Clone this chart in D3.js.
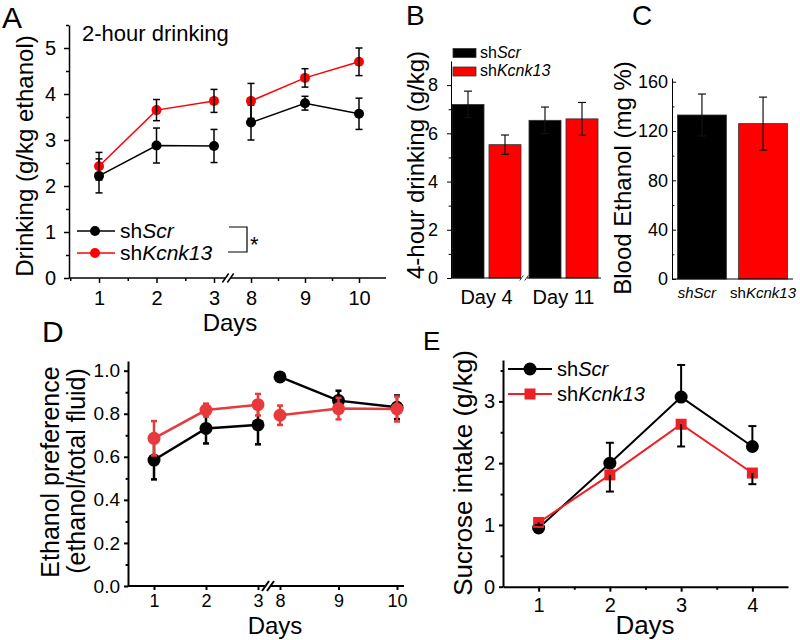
<!DOCTYPE html>
<html>
<head>
<meta charset="utf-8">
<script src="https://cdn.jsdelivr.net/npm/d3@7"></script>
<style>
  body { margin: 0; background: #fff; }
  text { font-family: Arial, "Liberation Sans", Helvetica, sans-serif; fill: #000; }
</style>
</head>
<body>
<svg id="fig" width="800" height="640"></svg>
<script>
// ---------- data ----------
let seriesNames = ['shScr', 'shKcnk13']   // "sh" upright, rest italic

// A: 2-hour drinking (g/kg ethanol)
let daysA = [1, 2, 3, 8, 9, 10]
let scrA = [2.22, 2.88, 2.87, 3.38, 3.80, 3.57]
let scrAErr = [0.37, 0.38, 0.36, 0.38, 0.15, 0.34]
let kcnkA = [2.43, 3.65, 3.85, 3.85, 4.35, 4.70]
let kcnkAErr = [0.30, 0.23, 0.25, 0.38, 0.20, 0.30]
let yTicksA = [0, 1, 2, 3, 4, 5]

// B: 4-hour drinking (g/kg)
let groupsB = ['Day 4', 'Day 11']
let scrB = [7.2, 6.54]
let scrBErr = [0.55, 0.55]
let kcnkB = [5.53, 6.6]
let kcnkBErr = [0.40, 0.68]
let yTicksB = [0, 2, 4, 6, 8]

// C: blood ethanol (mg %)
let groupsC = ['shScr', 'shKcnk13']
let italicFromC = [0, 2]
let bloodC = [133, 126]
let bloodCErr = [17, 21.5]
let yTicksC = [0, 40, 80, 120, 160]

// D: ethanol preference
let daysD = [1, 2, 3, 8, 9, 10]
let scrD = [0.585, 0.732, 0.748, 0.971, 0.861, 0.830]
let scrDErr = [0.09, 0.07, 0.09, 0.02, 0.046, 0.055]
let kcnkD = [0.686, 0.817, 0.842, 0.793, 0.824, 0.822]
let kcnkDErr = [0.08, 0.03, 0.05, 0.045, 0.05, 0.058]
let yTicksD = [0, 0.2, 0.4, 0.6, 0.8, 1.0]

// E: sucrose intake (g/kg)
let daysE = [1, 2, 3, 4]
let scrE = [0.95, 2.0, 3.07, 2.27]
let scrEErr = [0.04, 0.33, 0.52, 0.33]
let kcnkE = [1.04, 1.81, 2.63, 1.84]
let kcnkEErr = [0.04, 0.27, 0.36, 0.18]
let yTicksE = [0, 1, 2, 3]

// ---------- helpers ----------
let svg = d3.select('#fig')

function pts(days, vals, errs) {
    return days.map((d, i) => ({day: d, v: vals[i], e: errs[i]}))
}

function rich(sel, str, italicFrom) {
    sel.append('tspan').text(str.slice(0, italicFrom))
    sel.append('tspan').attr('font-style', 'italic').text(str.slice(italicFrom))
}

function label(g, x, y, str, size, anchor) {
    return g.append('text').attr('x', x).attr('y', y)
        .attr('font-size', size).attr('text-anchor', anchor || 'start').text(str)
}

function yLabel(g, x, y, str, size) {
    return g.append('text').attr('transform', `translate(${x},${y}) rotate(-90)`)
        .attr('font-size', size).attr('text-anchor', 'middle').text(str)
}

function yAxis(g, x, scale, ticks, minors, o) {
    let ax = g.append('g').attr('transform', `translate(${x},0)`)
        .call(d3.axisLeft(scale).tickValues(ticks).tickSize(o.tick).tickPadding(o.pad)
            .tickSizeOuter(0).tickFormat(o.fmt || (d => d)))
    ax.attr('font-size', o.size)
    ax.selectAll('path, line').attr('stroke-width', o.lw)
    if (minors) {
        let m = g.append('g').attr('transform', `translate(${x},0)`)
            .call(d3.axisLeft(scale).tickValues(minors).tickSize(o.tick * 0.6).tickFormat(''))
        m.select('.domain').remove()
        m.selectAll('line').attr('stroke-width', o.lw)
    }
}

// x axis with a "//" break between two linear pieces
function brokenAxis(g, y0, xStart, xEnd, bx, scales, ticks, minors, o) {
    g.append('line').attr('x1', xStart).attr('x2', xEnd).attr('y1', y0).attr('y2', y0)
        .attr('stroke', '#000').attr('stroke-width', o.lw)
    scales.forEach((s, i) => {
        let a = g.append('g').attr('transform', `translate(0,${y0})`)
            .call(d3.axisBottom(s).tickValues(ticks[i]).tickSize(o.tick).tickPadding(o.pad)
                .tickFormat(d => d))
        a.select('.domain').remove()
        a.attr('font-size', o.size)
        a.selectAll('line').attr('stroke-width', o.lw)
        if (minors) {
            let m = g.append('g').attr('transform', `translate(0,${y0})`)
                .call(d3.axisBottom(s).tickValues(minors[i]).tickSize(o.tick * 0.6).tickFormat(''))
            m.select('.domain').remove()
            m.selectAll('line').attr('stroke-width', o.lw)
        }
    })
    breakMark(g, bx, y0, o.brk, o.lw)
}

function breakMark(g, bx, y0, h, lw) {
    g.append('rect').attr('x', bx - 3).attr('y', y0 - 3).attr('width', 6).attr('height', 6).attr('fill', '#fff')
    ;[-2.5, 2.5].forEach(dx => {
        g.append('line')
            .attr('x1', bx + dx - h * 0.35).attr('y1', y0 + h / 2)
            .attr('x2', bx + dx + h * 0.35).attr('y2', y0 - h / 2)
            .attr('stroke', '#000').attr('stroke-width', lw)
    })
}

function errBars(g, data, x, y, o) {
    let eg = g.append('g').attr('stroke', o.color).attr('stroke-width', o.lw)
    data.forEach(p => {
        let top = o.dir === 'down' ? p.v : p.v + p.e
        let bot = o.dir === 'up' ? p.v : p.v - p.e
        let cx = x(p)
        eg.append('line').attr('x1', cx).attr('x2', cx).attr('y1', y(top)).attr('y2', y(bot))
        if (o.dir !== 'down')
            eg.append('line').attr('x1', cx - o.cap).attr('x2', cx + o.cap).attr('y1', y(top)).attr('y2', y(top))
        if (o.dir !== 'up')
            eg.append('line').attr('x1', cx - o.cap).attr('x2', cx + o.cap).attr('y1', y(bot)).attr('y2', y(bot))
    })
}

function drawSeries(g, data, x, y, o) {
    let line = d3.line().x(d => x(d.day)).y(d => y(d.v))
    let segs = o.split ? [data.filter(d => d.day <= 3), data.filter(d => d.day > 3)] : [data]
    segs.forEach(s => {
        g.append('path').attr('d', line(s)).attr('fill', 'none')
            .attr('stroke', o.color).attr('stroke-width', o.lw)
    })
    if (o.shape === 'square') {
        g.selectAll(null).data(data).enter().append('rect')
            .attr('x', d => x(d.day) - o.r).attr('y', d => y(d.v) - o.r)
            .attr('width', o.r * 2).attr('height', o.r * 2).attr('fill', o.color)
    } else {
        g.selectAll(null).data(data).enter().append('circle')
            .attr('cx', d => x(d.day)).attr('cy', d => y(d.v)).attr('r', o.r).attr('fill', o.color)
    }
    errBars(g, data, d => x(d.day), y, {color: o.errColor, lw: o.errLw, cap: o.cap, dir: o.dir})
}

// ---------- A ----------
let gA = svg.append('g')
let yA = d3.scaleLinear().domain([0, 5.5]).range([278, 25])
let xA1 = d3.scaleLinear().domain([1, 3]).range([99, 214])
let xA2 = d3.scaleLinear().domain([8, 10]).range([251, 359])
let xA = d => d <= 3 ? xA1(d) : xA2(d)

yAxis(gA, 69, yA, yTicksA, d3.range(0.5, 5.6, 1), {tick: 5, pad: 8, size: 20, lw: 1.5})
brokenAxis(gA, 278, 69, 386, 228, [xA1, xA2], [[1, 2, 3], [8, 9, 10]],
    [[0.5, 1.5, 2.5], [8.5, 9.5]], {tick: 5, pad: 8, size: 20, lw: 1.5, brk: 9})

drawSeries(gA, pts(daysA, scrA, scrAErr), xA, yA,
    {color: '#000', lw: 1.5, r: 5, errColor: '#000', errLw: 1.5, cap: 3.5, split: true})
drawSeries(gA, pts(daysA, kcnkA, kcnkAErr), xA, yA,
    {color: '#ff0000', lw: 1.5, r: 5, errColor: '#000', errLw: 1.5, cap: 3.5, split: true})

label(gA, 2, 28, 'A', 30)
label(gA, 82, 41, '2-hour drinking', 22)
label(gA, 230, 331, 'Days', 24, 'middle')
yLabel(gA, 33, 156, 'Drinking (g/kg ethanol)', 24)

// legend A
;[['#000', 231], ['#ff0000', 253]].forEach(([c, ly], i) => {
    gA.append('line').attr('x1', 77).attr('x2', 115).attr('y1', ly).attr('y2', ly)
        .attr('stroke', c).attr('stroke-width', 1.5)
    gA.append('circle').attr('cx', 95).attr('cy', ly).attr('r', 5).attr('fill', c)
    rich(label(gA, 120, ly + 7, '', 21), seriesNames[i], 2)
})
gA.append('path').attr('d', 'M229,227H247V252H228').attr('fill', 'none')
    .attr('stroke', '#000').attr('stroke-width', 1.2)
label(gA, 250, 252, '*', 22)

// ---------- B ----------
let gB = svg.append('g')
let yB = d3.scaleLinear().domain([0, 9]).range([278, 61])
let xB = d3.scaleBand().domain(groupsB).range([448, 602])
let xBs = d3.scaleBand().domain(['scr', 'kcnk']).range([0, xB.bandwidth()])
    .paddingInner(0.135).paddingOuter(0.108)
let barsB = groupsB.flatMap((g, i) => [
    {g: g, s: 'scr', v: scrB[i], e: scrBErr[i]},
    {g: g, s: 'kcnk', v: kcnkB[i], e: kcnkBErr[i]}
])
let colorS = {scr: '#000', kcnk: '#ff0000'}

gB.selectAll('rect.bar').data(barsB).enter().append('rect')
    .attr('class', 'bar')
    .attr('x', d => xB(d.g) + xBs(d.s))
    .attr('y', d => yB(d.v))
    .attr('width', xBs.bandwidth())
    .attr('height', d => yB(0) - yB(d.v))
    .attr('fill', d => colorS[d.s])
    .attr('stroke', '#333').attr('stroke-width', 0.8)
errBars(gB, barsB, d => xB(d.g) + xBs(d.s) + xBs.bandwidth() / 2, yB, {color: '#111', lw: 1.2, cap: 4})

yAxis(gB, 451, yB, yTicksB, [1, 3, 5, 7], {tick: 4, pad: 9, size: 18, lw: 1})
gB.append('line').attr('x1', 451).attr('x2', 601).attr('y1', 278).attr('y2', 278)
    .attr('stroke', '#000').attr('stroke-width', 1)
let axB = gB.append('g').attr('transform', 'translate(0,278)')
    .call(d3.axisBottom(xB).tickSize(0).tickPadding(12))
axB.select('.domain').remove()
axB.attr('font-size', 20)
breakMark(gB, 524, 278, 5, 0.8)

// legend B
;['scr', 'kcnk'].forEach((s, i) => {
    gB.append('rect').attr('x', 453).attr('y', 48.5 + i * 18.5).attr('width', 23).attr('height', 9)
        .attr('fill', colorS[s]).attr('stroke', '#333').attr('stroke-width', 0.8)
    rich(label(gB, 480, 57.5 + i * 18.5, '', 16), seriesNames[i], 2)
})
label(gB, 406, 25, 'B', 28)
yLabel(gB, 424, 165, '4-hour drinking (g/kg)', 24)

// ---------- C ----------
let gC = svg.append('g')
let yC = d3.scaleLinear().domain([0, 163]).range([279, 78])
let xC = d3.scaleBand().domain(groupsC).range([672, 793]).paddingInner(0.2).paddingOuter(0.09)
let barsC = groupsC.map((g, i) => ({g: g, v: bloodC[i], e: bloodCErr[i], c: i ? '#ff0000' : '#000'}))

gC.selectAll('rect.bar').data(barsC).enter().append('rect')
    .attr('class', 'bar')
    .attr('x', d => xC(d.g)).attr('y', d => yC(d.v))
    .attr('width', xC.bandwidth()).attr('height', d => yC(0) - yC(d.v))
    .attr('fill', d => d.c).attr('stroke', '#333').attr('stroke-width', 0.8)
errBars(gC, barsC, d => xC(d.g) + xC.bandwidth() / 2, yC, {color: '#111', lw: 1.2, cap: 4})

yAxis(gC, 672, yC, yTicksC, [20, 60, 100, 140], {tick: -4, pad: 4, size: 18, lw: 1})
gC.append('line').attr('x1', 672).attr('x2', 793).attr('y1', 279).attr('y2', 279)
    .attr('stroke', '#000').attr('stroke-width', 1)
groupsC.forEach((g, i) => {
    rich(label(gC, xC(g) + xC.bandwidth() / 2 - (i ? 0 : 5), 298, '', 15, 'middle'), g, italicFromC[i])
})
label(gC, 632, 25, 'C', 28)
yLabel(gC, 631, 178, 'Blood Ethanol (mg %)', 24)

// ---------- D ----------
let gD = svg.append('g')
let yD = d3.scaleLinear().domain([0, 1.045]).range([586, 361])
let xD1 = d3.scaleLinear().domain([1, 3]).range([154, 258])
let xD2 = d3.scaleLinear().domain([8, 10]).range([280, 397])
let xD = d => d <= 3 ? xD1(d) : xD2(d)

yAxis(gD, 128, yD, yTicksD, [0.1, 0.3, 0.5, 0.7, 0.9],
    {tick: 4, pad: 4, size: 19, lw: 2, fmt: d3.format('.1f')})
brokenAxis(gD, 586, 128, 404, 268, [xD1, xD2], [[1, 2, 3], [8, 9, 10]], null,
    {tick: 4, pad: 4, size: 18, lw: 2, brk: 10})

let redD = '#e8393c'
drawSeries(gD, pts(daysD, scrD, scrDErr), xD, yD,
    {color: '#000', lw: 2.5, r: 6.5, errColor: '#000', errLw: 2.5, cap: 3, split: true})
drawSeries(gD, pts(daysD, kcnkD, kcnkDErr), xD, yD,
    {color: redD, lw: 2.5, r: 6.5, errColor: redD, errLw: 2.5, cap: 3, split: true})

label(gD, 42, 342, 'D', 30)
label(gD, 275, 634, 'Days', 24, 'middle')
yLabel(gD, 59, 472, 'Ethanol preference', 25)
yLabel(gD, 85, 471, '(ethanol/total fluid)', 25)

// ---------- E ----------
let gE = svg.append('g')
let yE = d3.scaleLinear().domain([0, 3.67]).range([586.7, 360])
let xE = d3.scaleLinear().domain([0.5, 4.5]).range([503, 788])
let redE = '#ee2024'

yAxis(gE, 503, yE, yTicksE, [0.5, 1.5, 2.5, 3.5], {tick: 4, pad: 4, size: 20, lw: 2})
let axE = gE.append('g').attr('transform', 'translate(0,586.7)')
    .call(d3.axisBottom(xE).tickValues(daysE).tickSize(5).tickPadding(6).tickSizeOuter(0)
        .tickFormat(d => d))
axE.attr('font-size', 20)
axE.selectAll('path, line').attr('stroke-width', 2)
let axEm = gE.append('g').attr('transform', 'translate(0,586.7)')
    .call(d3.axisBottom(xE).tickValues([1.5, 2.5, 3.5]).tickSize(3).tickFormat(''))
axEm.select('.domain').remove()
axEm.selectAll('line').attr('stroke-width', 2)

drawSeries(gE, pts(daysE, scrE, scrEErr), xE, yE,
    {color: '#000', lw: 2, r: 6.5, errColor: '#000', errLw: 2, cap: 4, dir: 'up'})
drawSeries(gE, pts(daysE, kcnkE, kcnkEErr), xE, yE,
    {color: redE, lw: 2, r: 5.5, shape: 'square', errColor: '#000', errLw: 2, cap: 4, dir: 'down'})

// legend E
;[['#000', 369, 'circle'], [redE, 394, 'square']].forEach(([c, ly, sh], i) => {
    gE.append('line').attr('x1', 508).attr('x2', 552).attr('y1', ly).attr('y2', ly)
        .attr('stroke', c).attr('stroke-width', 2)
    if (sh === 'circle') gE.append('circle').attr('cx', 530).attr('cy', ly).attr('r', 6.5).attr('fill', c)
    else gE.append('rect').attr('x', 524.5).attr('y', ly - 5.5).attr('width', 11).attr('height', 11).attr('fill', c)
    rich(label(gE, 557, ly + 7, '', 20), seriesNames[i], 2)
})

label(gE, 423, 350, 'E', 26)
label(gE, 645, 634, 'Days', 26, 'middle')
yLabel(gE, 472, 473, 'Sucrose intake (g/kg)', 26)
</script>
</body>
</html>
